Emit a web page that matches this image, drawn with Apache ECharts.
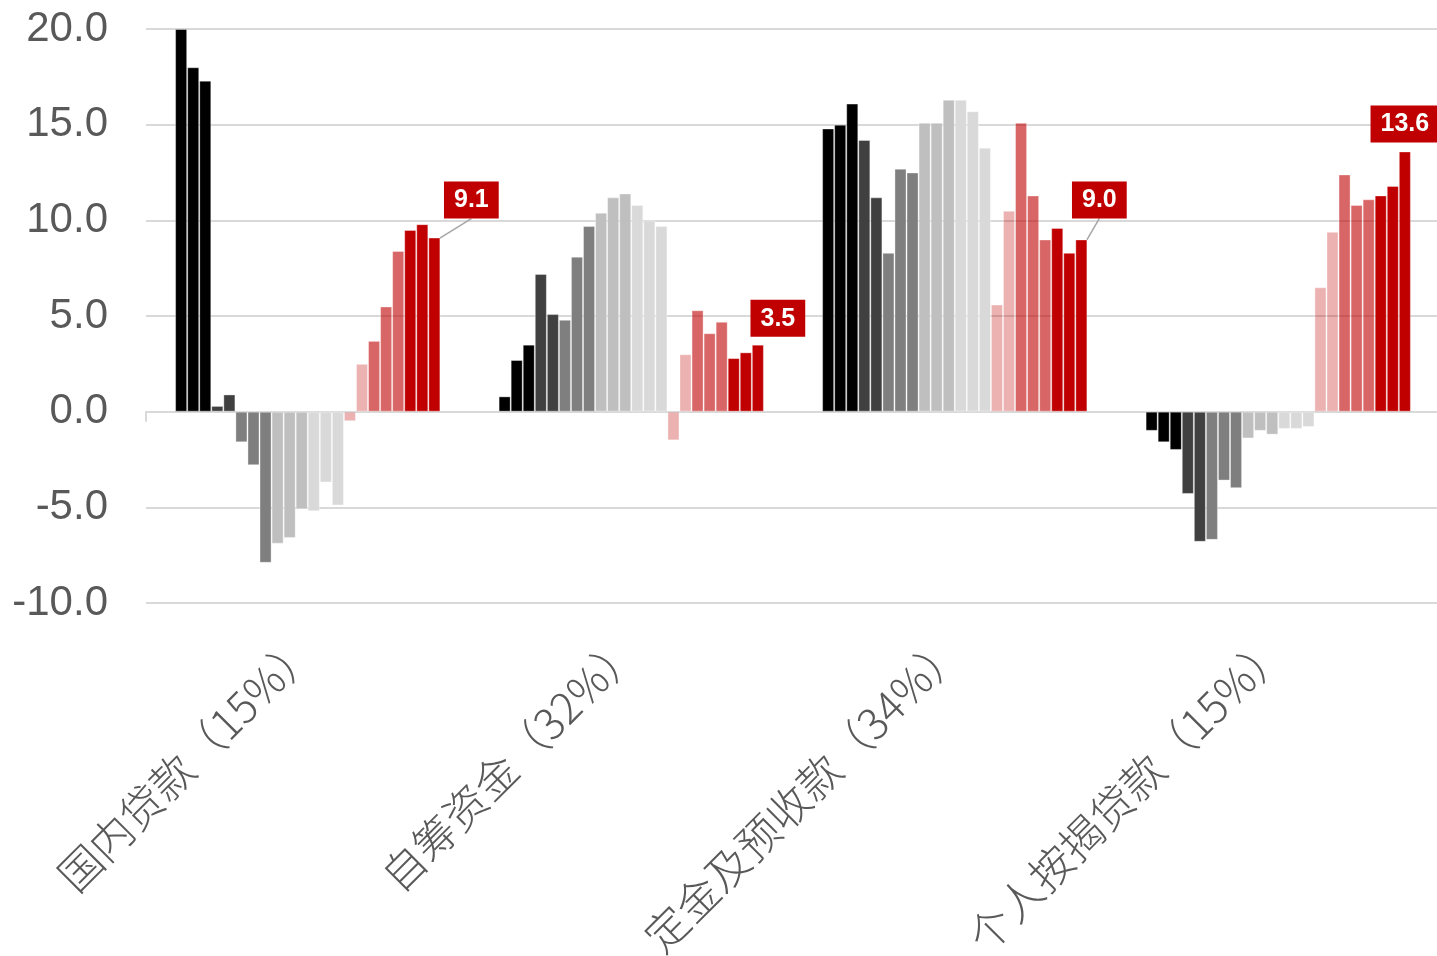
<!DOCTYPE html>
<html>
<head>
<meta charset="utf-8">
<style>
  html, body { margin: 0; padding: 0; background: #ffffff; }
  #chart { width: 1437px; height: 956px; }
</style>
<script src="https://cdn.jsdelivr.net/npm/echarts@6/dist/echarts.min.js"></script>
</head>
<body>
<div id="chart"></div>
<script>
// ---- data ----
const categories = ['国内贷款（15%）', '自筹资金（32%）', '定金及预收款（34%）', '个人按揭贷款（15%）'];
const domesticLoan = [20.0, 18.0, 17.3, 0.3, 0.9, -1.6, -2.8, -7.9, -6.9, -6.6, -5.1, -5.2, -3.7, -4.9, -0.5, 2.5, 3.7, 5.5, 8.4, 9.5, 9.8, 9.1];
const selfRaised   = [0.8, 2.7, 3.5, 7.2, 5.1, 4.8, 8.1, 9.7, 10.4, 11.2, 11.4, 10.8, 10.0, 9.7, -1.5, 3.0, 5.3, 4.1, 4.7, 2.8, 3.1, 3.5];
const deposits     = [14.8, 15.0, 16.1, 14.2, 11.2, 8.3, 12.7, 12.5, 15.1, 15.1, 16.3, 16.3, 15.7, 13.8, 5.6, 10.5, 15.1, 11.3, 9.0, 9.6, 8.3, 9.0];
const mortgage     = [-1.0, -1.6, -2.0, -4.3, -6.8, -6.7, -3.6, -4.0, -1.4, -1.0, -1.2, -0.9, -0.9, -0.8, 6.5, 9.4, 12.4, 10.8, 11.1, 11.3, 11.8, 13.6];
const yTicks = { min: -10, max: 20, interval: 5 };

// ---- style ----
const BLACK = '#000000', DGRAY = '#404040', GRAY = '#7F7F7F', LGRAY = '#BFBFBF', XLGRAY = '#D9D9D9';
const PINK = 'rgba(192,0,0,0.3)', MRED = 'rgba(192,0,0,0.6)', RED = '#C00000';
const seriesColors = [BLACK, BLACK, BLACK, DGRAY, DGRAY, GRAY, GRAY, GRAY, LGRAY, LGRAY, LGRAY,
  XLGRAY, XLGRAY, XLGRAY, PINK, PINK, MRED, MRED, MRED, RED, RED, RED];
// label offsets for the last series (per category): [dx, dy, showLeader]
const labelShift = [[37, -19, true], [20, -8, false], [18, -21, true], [0, -9, false]];

const table = [domesticLoan, selfRaised, deposits, mortgage];
const nSeries = domesticLoan.length;

const series = [];
for (let s = 0; s < nSeries; s++) {
  const isLast = s === nSeries - 1;
  const data = table.map((arr, c) => {
    if (!isLast) return arr[s];
    return { value: arr[s], labelLine: { show: labelShift[c][2] } };
  });
  const ser = {
    name: '系列' + (s + 1),
    type: 'bar',
    data: data,
    barGap: '0%',
    barCategoryGap: '18%',
    itemStyle: { color: seriesColors[s], borderColor: 'rgba(255,255,255,0.35)', borderWidth: 1 },
    emphasis: { disabled: true },
    silent: true
  };
  if (isLast) {
    ser.label = {
      show: true,
      position: 'top',
      distance: 0,
      formatter: (p) => p.value.toFixed(1),
      color: '#ffffff',
      fontWeight: 'bold',
      fontSize: 25,
      fontFamily: 'Liberation Sans, Arial, sans-serif',
      lineHeight: 26,
      backgroundColor: RED,
      padding: [6, 10, 5, 10]
    };
    ser.labelLine = { show: true, lineStyle: { color: '#A6A6A6', width: 1.5 } };
    ser.labelLayout = function (p) {
      const sh = labelShift[p.dataIndex];
      return { dx: sh[0], dy: sh[1] };
    };
  }
  series.push(ser);
}

const chart = echarts.init(document.getElementById('chart'), null, { renderer: 'canvas' });
chart.setOption({
  animation: false,
  backgroundColor: '#ffffff',
  grid: { left: 146, top: 29, width: 1294, height: 574, containLabel: false, outerBoundsMode: 'none' },
  xAxis: [
    {
      type: 'category',
      data: categories,
      position: 'bottom',
      axisLine: { show: false, onZero: false },
      axisTick: { show: false },
      axisLabel: {
        rotate: 45,
        margin: 38,
        fontSize: 43,
        color: '#595959',
        fontFamily: 'Noto Sans CJK SC, sans-serif',
        fontWeight: 300,
        interval: 0
      }
    },
    {
      type: 'category',
      data: categories,
      position: 'bottom',
      axisLine: { show: true, onZero: true, lineStyle: { color: '#D9D9D9', width: 2 } },
      axisTick: { show: true, length: 10, interval: (i) => i === 0, lineStyle: { color: '#D9D9D9', width: 2 } },
      axisLabel: { show: false }
    }
  ],
  yAxis: {
    type: 'value',
    min: yTicks.min,
    max: yTicks.max,
    interval: yTicks.interval,
    axisLine: { show: false },
    axisTick: { show: false },
    axisLabel: {
      formatter: (v) => v.toFixed(1),
      fontSize: 42,
      margin: 38,
      color: '#595959',
      fontFamily: 'Liberation Sans, Arial, sans-serif'
    },
    splitLine: { lineStyle: { color: '#D9D9D9', width: 2 } }
  },
  series: series
});
</script>
</body>
</html>
